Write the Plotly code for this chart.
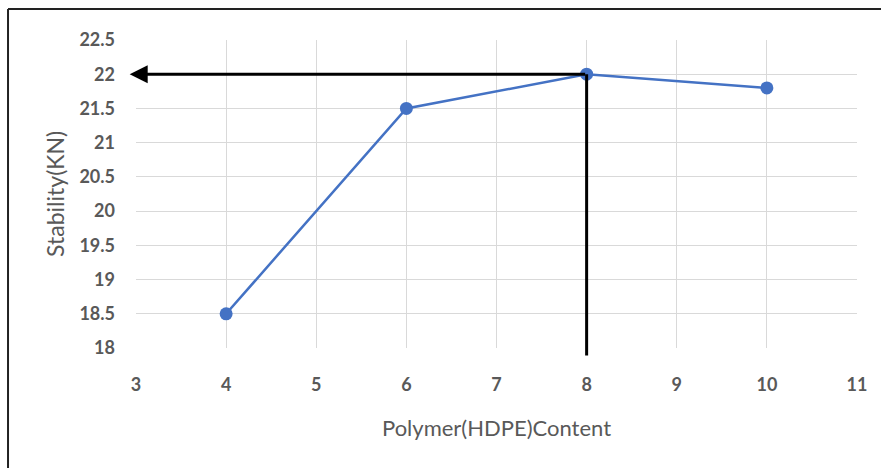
import plotly.graph_objects as go

hdpe_content = [4, 6, 8, 10]
stability = [18.5, 21.5, 22.0, 21.8]
x_ticks = [3, 4, 5, 6, 7, 8, 9, 10, 11]
y_ticks = [18, 18.5, 19, 19.5, 20, 20.5, 21, 21.5, 22, 22.5]
y_tick_text = ["18", "18.5", "19", "19.5", "20", "20.5", "21", "21.5", "22", "22.5"]
opt_x = 8
opt_y = 22.0

FONT = "Lato"
GRAY = "#595959"

fig = go.Figure()
fig.add_trace(go.Scatter(
    x=hdpe_content, y=stability, mode="lines+markers",
    line=dict(color="#4472C4", width=2.5),
    marker=dict(color="#4472C4", size=13),
    cliponaxis=False, showlegend=False,
))

# horizontal arrow from optimum point to y-axis
fig.add_annotation(
    x=2.93, y=opt_y, ax=opt_x, ay=opt_y, xref="x", yref="y", axref="x", ayref="y",
    text="", showarrow=True, arrowhead=2, arrowsize=1.2, arrowwidth=3, arrowcolor="#000000",
)
# vertical line from x-axis to optimum point
fig.add_annotation(
    x=opt_x, y=opt_y, ax=opt_x, ay=17.87, xref="x", yref="y", axref="x", ayref="y",
    text="", showarrow=True, arrowhead=0, arrowwidth=3, arrowcolor="#000000",
)

# axis titles
fig.add_annotation(
    x=0.5, y=-0.2565, xref="paper", yref="paper", text="Polymer(HDPE)Content",
    xanchor="center", yanchor="middle",
    showarrow=False, font=dict(family=FONT, size=22, color=GRAY),
)
fig.add_annotation(
    x=-0.1124, y=0.5, xref="paper", yref="paper", text="Stability(KN)", textangle=-90,
    xanchor="center", yanchor="middle",
    showarrow=False, font=dict(family=FONT, size=23, color=GRAY),
)

# outer frame (left and top edges)
fig.add_shape(type="line", xref="paper", yref="paper", x0=-0.1775, x1=-0.1775,
              y0=1.1006, y1=-0.40, line=dict(color="#222222", width=2))
fig.add_shape(type="line", xref="paper", yref="paper", x0=-0.1775, x1=1.04,
              y0=1.1006, y1=1.1006, line=dict(color="#222222", width=2))

fig.update_xaxes(
    range=[3, 11], tickvals=x_ticks, showgrid=True, gridcolor="#d9d9d9", gridwidth=1,
    zeroline=False, showline=False, ticks="", ticklabelstandoff=24,
    tickfont=dict(family=FONT, size=18, color=GRAY, weight="bold"),
)
fig.update_yaxes(
    range=[18, 22.5], tickvals=y_ticks, ticktext=y_tick_text, showgrid=True,
    gridcolor="#d9d9d9", gridwidth=1, zeroline=False, showline=False, ticks="",
    ticklabelstandoff=20,
    tickfont=dict(family=FONT, size=18, color=GRAY, weight="bold"),
)
fig.update_layout(
    width=881, height=468,
    margin=dict(l=136, r=24, t=40, b=120),
    paper_bgcolor="white", plot_bgcolor="white",
)
fig.write_html("out.html")
